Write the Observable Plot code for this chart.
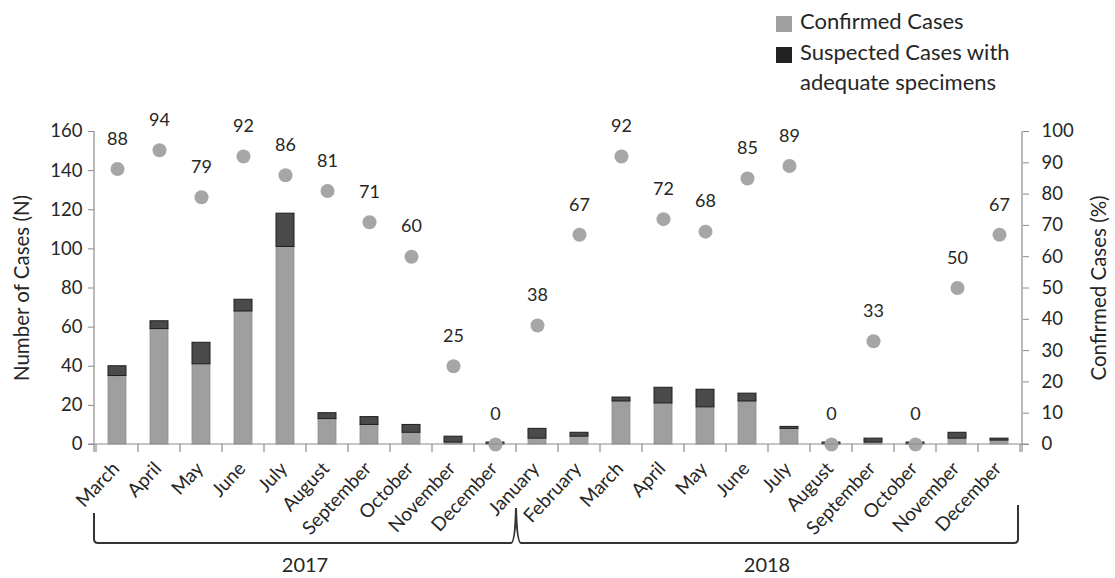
<!DOCTYPE html>
<html>
<head>
<meta charset="utf-8">
<script src="https://cdn.jsdelivr.net/npm/d3@7"></script>
<script src="https://cdn.jsdelivr.net/npm/@observablehq/plot@0.6"></script>
<style>
  body { margin: 0; background: #fff; font-family: Lato, "Open Sans", sans-serif; color: #262626; }
  #wrap { width: 1115px; }
  #legend { position: relative; height: 100px; font-size: 22px; }
  .li { position: absolute; left: 776px; }
  .sw { position: absolute; width: 16px; height: 16px; left: 0; }
  .lt { position: absolute; left: 24px; white-space: nowrap; line-height: 30px; }
</style>
</head>
<body>
<div id="wrap">
  <div id="legend"></div>
  <div id="chart"></div>
</div>
<script>
// ---- data ----
const months2017 = ["March","April","May","June","July","August","September","October","November","December"];
const months2018 = ["January","February","March","April","May","June","July","August","September","October","November","December"];
const confirmed2017 = [35, 59, 41, 68, 101, 13, 10, 6, 1, 0];
const suspected2017 = [5, 4, 11, 6, 17, 3, 4, 4, 3, 1];
const percent2017   = [88, 94, 79, 92, 86, 81, 71, 60, 25, 0];
const confirmed2018 = [3, 4, 22, 21, 19, 22, 8, 0, 1, 0, 3, 2];
const suspected2018 = [5, 2, 2, 8, 9, 4, 1, 1, 2, 1, 3, 1];
const percent2018   = [38, 67, 92, 72, 68, 85, 89, 0, 33, 0, 50, 67];
const years = ["2017", "2018"];
const leftTicks = [0, 20, 40, 60, 80, 100, 120, 140, 160];
const rightTicks = [0, 10, 20, 30, 40, 50, 60, 70, 80, 90, 100];
const seriesNames = ["Confirmed Cases", "Suspected Cases with", "adequate specimens"];
const leftTitle = "Number of Cases (N)";
const rightTitle = "Confirmed Cases (%)";

const colConfirmed = "#9f9f9f";
const colSuspected = "#4a4a4a";
const colDot = "#a6a6a6";
const axisGray = "#8c8c8c";
const textCol = "#262626";

// ---- build rows ----
const rows = [];
months2017.forEach((m, i) => rows.push({year: years[0], month: m, key: years[0] + "-" + m,
  confirmed: confirmed2017[i], suspected: suspected2017[i], percent: percent2017[i]}));
months2018.forEach((m, i) => rows.push({year: years[1], month: m, key: years[1] + "-" + m,
  confirmed: confirmed2018[i], suspected: suspected2018[i], percent: percent2018[i]}));
rows.forEach(d => d.total = d.confirmed + d.suspected);
const keys = rows.map(d => d.key);
const pctToY = p => p * 160 / 100;

// ---- legend (HTML) ----
const legend = document.getElementById("legend");
legend.innerHTML = `
  <div class="li" style="top:6px"><div class="sw" style="top:10px;background:${colConfirmed}"></div>
    <div class="lt" style="top:0">${seriesNames[0]}</div></div>
  <div class="li" style="top:37px"><div class="sw" style="top:10px;background:#222"></div>
    <div class="lt" style="top:0">${seriesNames[1]}<br>${seriesNames[2]}</div></div>`;

// ---- plot ----
const W = 1115, H = 478;
const chart = Plot.plot({
  width: W,
  height: H,
  marginTop: 31,
  marginBottom: 134,
  marginLeft: 94,
  marginRight: 93,
  style: {fontFamily: "Lato, 'Open Sans', sans-serif", color: textCol, background: "#fff"},
  x: {domain: keys, type: "band", paddingInner: 0.57, paddingOuter: 0.285, axis: null},
  y: {domain: [0, 160]},
  marks: [
    Plot.barY(rows, {x: "key", y1: 0, y2: "confirmed", fill: colConfirmed, stroke: "#8f8f8f", strokeWidth: 0.8}),
    Plot.barY(rows, {x: "key", y1: "confirmed", y2: "total", fill: colSuspected, stroke: "#1e1e1e", strokeWidth: 1}),
    Plot.dot(rows, {x: "key", y: d => pctToY(d.percent), r: 7, fill: colDot}),
    Plot.text(rows, {x: "key", y: d => pctToY(d.percent), text: d => String(d.percent), dy: -30, fontSize: 18, fill: textCol}),
    Plot.axisY(leftTicks, {anchor: "left", tickSize: 6, tickPadding: 6, fontSize: 18.5, label: null, stroke: axisGray, fill: textCol}),
    Plot.axisY(rightTicks.map(pctToY), {anchor: "right", tickSize: 6, tickPadding: 13, fontSize: 18.5, label: null,
      tickFormat: d => String(Math.round(d * 100 / 160)), stroke: axisGray, fill: textCol}),
    Plot.text(rows, {x: "key", frameAnchor: "bottom", text: "month", rotate: -47, textAnchor: "end",
      dx: 3, dy: 25, fontSize: 19, fill: textCol}),
    Plot.text([leftTitle], {frameAnchor: "left", textAnchor: "middle", dx: -72, rotate: -90, text: d => d, fontSize: 20.5, fill: textCol}),
    Plot.text([rightTitle], {frameAnchor: "right", textAnchor: "middle", dx: 77, rotate: -90, text: d => d, fontSize: 20.5, fill: textCol})
  ]
});
document.getElementById("chart").appendChild(chart);

// ---- axis lines, category boundary ticks, year bracket ----
const xs = chart.scale("x");
const step = xs.step;
const centers = keys.map(k => xs.apply(k) + xs.bandwidth / 2);
const bounds = centers.map(c => c - step / 2).concat([centers[centers.length - 1] + step / 2]);
const svg = d3.select(chart);
const y0 = H - 134, yTop = 31;
const xL = 94, xR = W - 93;
const g = svg.append("g").attr("stroke", axisGray).attr("fill", "none").attr("stroke-width", 1.2);
g.append("line").attr("x1", xL - 6).attr("x2", xR + 6).attr("y1", y0).attr("y2", y0);
g.append("line").attr("x1", xL).attr("x2", xL).attr("y1", yTop).attr("y2", y0 + 8);
g.append("line").attr("x1", xR).attr("x2", xR).attr("y1", yTop).attr("y2", y0 + 8);
bounds.forEach(b => g.append("line").attr("x1", b).attr("x2", b).attr("y1", y0).attr("y2", y0 + 8));

// bracket
const yearStart = {};
rows.forEach((d, i) => { if (!(d.year in yearStart)) yearStart[d.year] = i; });
const bl = bounds[0] - 2, bm = bounds[yearStart[years[1]]], br = bounds[bounds.length - 1] - 2;
const by = 443, btopL = 413, btopM = 408, btopR = 405;
const bp = `M${bl},${btopL} L${bl},${by - 4} Q${bl},${by} ${bl + 4},${by} L${bm - 5},${by} Q${bm - 1},${by} ${bm},${btopM}
  Q${bm + 1},${by} ${bm + 5},${by} L${br - 4},${by} Q${br},${by} ${br},${by - 4} L${br},${btopR}`;
svg.append("path").attr("d", bp).attr("fill", "none").attr("stroke", "#333").attr("stroke-width", 2);
const yearCenters = [(bl + bm) / 2, (bm + br) / 2];
years.forEach((yr, i) => svg.append("text").attr("x", yearCenters[i]).attr("y", 472)
  .attr("text-anchor", "middle").attr("font-size", 20).attr("fill", textCol).text(yr));
</script>
</body>
</html>
